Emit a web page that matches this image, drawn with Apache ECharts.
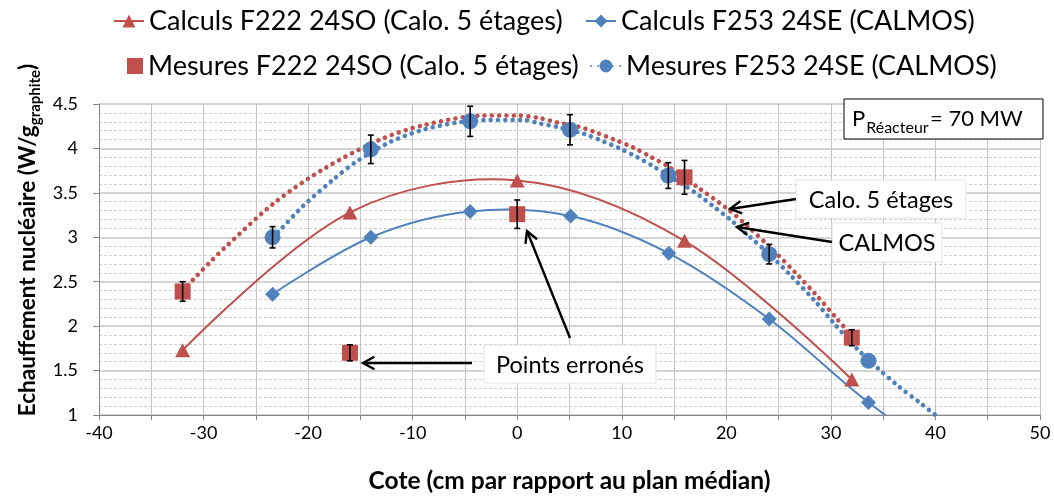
<!DOCTYPE html>
<html><head><meta charset="utf-8">
<script src="https://cdn.jsdelivr.net/npm/echarts@6/dist/echarts.min.js"></script>
<style>html,body{margin:0;padding:0;background:#fff}#c{width:1054px;height:499px}</style>
</head><body><div id="c"></div>
<script>
// ---------- data ----------
const xTicks = [-40, -30, -20, -10, 0, 10, 20, 30, 40, 50];
const yTicks = [1, 1.5, 2, 2.5, 3, 3.5, 4, 4.5];

const calcF222X = [-32, -16, 0, 16, 32];
const calcF222Y = [1.73, 3.28, 3.64, 2.96, 1.40];

const calcF253X = [-23.4, -14.0, -4.5, 5.1, 14.5, 24.1, 33.6, 43.2];
const calcF253Y = [2.36, 3.00, 3.29, 3.24, 2.82, 2.08, 1.14, 0.35];

const mesF222X = [-32, -16, 0, 16, 32];
const mesF222Y = [2.39, 1.70, 3.26, 3.675, 1.87];
const mesF222Err = [0.11, 0.09, 0.16, 0.19, 0.09];

const mesF253X = [-23.4, -14.0, -4.5, 5.05, 14.45, 24.1, 33.6];
const mesF253Y = [3.00, 3.99, 4.305, 4.21, 3.695, 2.81, 1.61];
const mesF253Err = [0.12, 0.16, 0.17, 0.17, 0.145, 0.11, 0];

const trendF222X = [-32, -30.7, -29.3, -28, -23.2, -18.5, -13.1, -9, -3.25, 0, 2.2, 3.9, 5.7, 7.4, 9.25, 11.1, 12.7, 14.6, 17.3, 20.0, 22.0, 24.6, 26.7, 28.6, 30.6, 32];
const trendF222Y = [2.40, 2.56, 2.73, 2.88, 3.39, 3.77, 4.10, 4.26, 4.37, 4.37, 4.34, 4.29, 4.25, 4.185, 4.10, 4.01, 3.91, 3.785, 3.56, 3.33, 3.13, 2.84, 2.59, 2.35, 2.08, 1.89];

const trendF253X = [-23.4, -22.7, -20.5, -17.6, -15.4, -12.2, -9.0, -5.8, -2.6, 0.6, 2.2, 3.9, 6.5, 8.2, 9.8, 11.4, 13.0, 14.45, 16.0, 17.4, 18.8, 20.3, 22.2, 24.1, 26.0, 28.5, 30.2, 32.55, 34.45, 36.5, 38.6, 40.0];
const trendF253Y = [3.00, 3.08, 3.35, 3.65, 3.85, 4.07, 4.21, 4.29, 4.32, 4.32, 4.28, 4.24, 4.16, 4.08, 4.00, 3.906, 3.80, 3.694, 3.584, 3.47, 3.345, 3.206, 3.01, 2.81, 2.59, 2.28, 2.045, 1.74, 1.53, 1.32, 1.13, 1.00];

const seriesNames = [
  'Calculs F222 24SO (Calo. 5 étages)',
  'Calculs F253 24SE (CALMOS)',
  'Mesures F222 24SO (Calo. 5 étages)',
  'Mesures F253 24SE (CALMOS)'
];
const xTitle = 'Cote (cm par rapport au plan médian)';
const yTitleMain = 'Echauffement nucléaire (W/g';
const yTitleSub = 'graphite';
const yTitleEnd = ')';
const notes = ['Calo. 5 étages', 'CALMOS', 'Points erronés'];

// ---------- style ----------
const FAM = 'Lato, "Noto Sans", sans-serif';
const RED = '#C0504D', BLUE = '#4F81BD';
const cv = document.createElement('canvas').getContext('2d');
function tw(text, size, weight) { cv.font = (weight || 'normal') + ' ' + size + 'px ' + FAM; return cv.measureText(text).width; }
function fit(text, target, weight) { return Math.round(100 * target / tw(text, 100, weight) * 2) / 2; }

const LEG = fit(seriesNames[0], 412);
const NOTE = fit(notes[2], 149);
const XT = fit(xTitle, 400, 'bold');
const PBIG = fit('= 70 MW', 93);
const PSUB = fit('Réacteur', 62);
const ytBase = tw(yTitleMain, 100, 'bold') + tw(yTitleSub, 65, 'bold') + tw(yTitleEnd, 100, 'bold');
const YT = Math.round(100 * 354 / ytBase * 2) / 2;
const YTS = Math.round(YT * 0.65);

const pairs = (xs, ys) => xs.map((x, i) => [x, ys[i]]);
const triples = (xs, ys, es) => xs.map((x, i) => [x, ys[i], es[i]]);

function errBar(params, api) {
  const x = api.value(0), y = api.value(1), e = api.value(2);
  if (!(e > 0)) return null;
  const t = api.coord([x, y + e]), b = api.coord([x, y - e]);
  const st = { stroke: '#000', lineWidth: 1.6 };
  return { type: 'group', children: [
    { type: 'line', shape: { x1: t[0], y1: t[1], x2: b[0], y2: b[1] }, style: st },
    { type: 'line', shape: { x1: t[0] - 3, y1: t[1], x2: t[0] + 3, y2: t[1] }, style: st },
    { type: 'line', shape: { x1: b[0] - 3, y1: b[1], x2: b[0] + 3, y2: b[1] }, style: st }
  ]};
}
// Excel-like smoothed curve through the series points (no overshoot clamping)
function curve(color) {
  return function (params, api) {
    if (params.dataIndexInside !== 0) return null;
    const pts = [];
    for (let i = 0; i < params.dataInsideLength; i++) pts.push(api.coord([api.value(0, i), api.value(1, i)]));
    const cs = params.coordSys;
    return { type: 'group', children: [
      { type: 'polyline', shape: { points: pts, smooth: 0.34 }, style: { stroke: color, lineWidth: 2, fill: null } }
    ], clipPath: { type: 'rect', shape: { x: cs.x, y: cs.y, width: cs.width, height: cs.height } } };
  };
}

function arrow(x1, y1, x2, y2) {
  const a = Math.atan2(y1 - y2, x1 - x2), L = 13, h = 0.5;
  const st = { stroke: '#000', lineWidth: 2.4, fill: null };
  return { type: 'group', z: 100, children: [
    { type: 'line', shape: { x1, y1, x2, y2 }, style: st, z: 100 },
    { type: 'polyline', shape: { points: [
      [x2 + L * Math.cos(a + h), y2 + L * Math.sin(a + h)], [x2, y2],
      [x2 + L * Math.cos(a - h), y2 + L * Math.sin(a - h)] ] }, style: st, z: 100 }
  ]};
}
function noteBox(x, y, w, h, text) {
  return { type: 'group', z: 100, children: [
    { type: 'rect', shape: { x, y, width: w, height: h }, style: { fill: '#fff', stroke: '#e3e3e3', lineWidth: 1 }, z: 100 },
    { type: 'text', x: x + w / 2, y: y + h / 2 + 1, z: 101, style: { text, font: NOTE + 'px ' + FAM, fill: '#000', textAlign: 'center', textVerticalAlign: 'middle' } }
  ]};
}

const wMain = tw(yTitleMain, YT, 'bold'), wSub = tw(yTitleSub, YTS, 'bold'), wEnd = tw(yTitleEnd, YT, 'bold');
const y0 = -(wMain + wSub + wEnd) / 2;
const wP = tw('P', PBIG);

const legendBase = (name, left, top, iw) => ({
  data: [name], left, top, padding: 0, itemWidth: iw || 30, itemHeight: 16,
  lineStyle: { opacity: 1 },
  textStyle: { fontSize: LEG, fontFamily: FAM, color: '#000' }
});

const chart = echarts.init(document.getElementById('c'), null, { renderer: 'canvas' });
chart.setOption({
  animation: false,
  backgroundColor: '#fff',
  grid: { left: 99, right: 14, top: 104, bottom: 77 },
  legend: [
    legendBase(seriesNames[0], 113, 21 - LEG / 2),
    legendBase(seriesNames[1], 585, 21 - LEG / 2),
    legendBase(seriesNames[2], 127, 66 - LEG / 2, 16),
    legendBase(seriesNames[3], 590, 66 - LEG / 2)
  ],
  xAxis: {
    type: 'value', min: xTicks[0], max: xTicks[xTicks.length - 1], interval: xTicks[1] - xTicks[0],
    name: xTitle, nameLocation: 'middle', nameGap: 54,
    nameTextStyle: { fontSize: XT, fontWeight: 'bold', fontFamily: FAM, color: '#000' },
    axisLine: { show: true, onZero: false, lineStyle: { color: '#868686', width: 1 } },
    axisTick: { show: true, length: 5, lineStyle: { color: '#868686' } },
    minorTick: { show: true, splitNumber: 2, length: 5, lineStyle: { color: '#868686' } },
    axisLabel: { fontSize: 18, fontFamily: FAM, color: '#000', margin: 9 },
    splitLine: { show: true, lineStyle: { color: '#c4c4c4', width: 1 } },
    minorSplitLine: { show: true, lineStyle: { color: '#c4c4c4', width: 1 } }
  },
  yAxis: {
    type: 'value', min: yTicks[0], max: yTicks[yTicks.length - 1], interval: yTicks[1] - yTicks[0],
    axisLine: { show: true, onZero: false, lineStyle: { color: '#868686', width: 1 } },
    axisTick: { show: true, length: 6, lineStyle: { color: '#868686' } },
    minorTick: { show: false, splitNumber: 5 },
    axisLabel: { fontSize: 18, fontFamily: FAM, color: '#000', margin: 21 },
    splitLine: { show: true, lineStyle: { color: '#d4d4d4', width: 2 } },
    minorSplitLine: { show: true, lineStyle: { color: '#cfcfcf', width: 1, type: [3, 2] } }
  },
  series: [
    { name: 'Tendance F222', type: 'line', data: pairs(trendF222X, trendF222Y), smooth: 0.3,
      symbol: 'none', showSymbol: false, silent: true, z: 2,
      lineStyle: { color: RED, width: 4.6, type: [0.01, 7.3], cap: 'round' } },
    { name: seriesNames[3], type: 'line', data: pairs(trendF253X, trendF253Y), smooth: 0.3,
      symbol: 'circle', symbolSize: 14, showSymbol: false, z: 2,
      itemStyle: { color: BLUE },
      lineStyle: { color: BLUE, width: 4.6, type: [0.01, 7.3], cap: 'round' } },
    { type: 'custom', data: pairs(calcF222X, calcF222Y), renderItem: curve(RED), z: 3, silent: true },
    { type: 'custom', data: pairs(calcF253X, calcF253Y), renderItem: curve(BLUE), z: 3, silent: true },
    { name: seriesNames[0], type: 'line', data: pairs(calcF222X, calcF222Y),
      symbol: 'triangle', symbolSize: [15, 14], z: 4,
      itemStyle: { color: RED }, lineStyle: { color: RED, width: 2, opacity: 0 } },
    { name: seriesNames[1], type: 'line', data: pairs(calcF253X, calcF253Y),
      symbol: 'diamond', symbolSize: 15, z: 4,
      itemStyle: { color: BLUE }, lineStyle: { color: BLUE, width: 2, opacity: 0 } },
    { name: seriesNames[2], type: 'scatter', data: pairs(mesF222X, mesF222Y),
      symbol: 'rect', symbolSize: 16, z: 4, itemStyle: { color: RED, opacity: 1 } },
    { name: seriesNames[3], type: 'scatter', data: pairs(mesF253X, mesF253Y),
      symbol: 'circle', symbolSize: 16, z: 4, itemStyle: { color: BLUE, opacity: 1 } },
    { type: 'custom', data: triples(mesF222X, mesF222Y, mesF222Err), renderItem: errBar, z: 6, silent: true },
    { type: 'custom', data: triples(mesF253X, mesF253Y, mesF253Err), renderItem: errBar, z: 6, silent: true }
  ],
  graphic: [
    { type: 'group', z: 100, children: [
      { type: 'rect', shape: { x: 844, y: 99, width: 199, height: 40 }, style: { fill: '#fff', stroke: '#000', lineWidth: 1 }, z: 100 },
      { type: 'text', x: 852, y: 119, z: 101, style: { text: 'P', font: PBIG + 'px ' + FAM, fill: '#000', textAlign: 'left', textVerticalAlign: 'middle' } },
      { type: 'text', x: 852 + wP + 1, y: 128, z: 101, style: { text: 'Réacteur', font: PSUB + 'px ' + FAM, fill: '#000', textAlign: 'left', textVerticalAlign: 'middle' } },
      { type: 'text', x: 930, y: 119, z: 101, style: { text: '= 70 MW', font: PBIG + 'px ' + FAM, fill: '#000', textAlign: 'left', textVerticalAlign: 'middle' } }
    ]},
    noteBox(796, 180, 170, 38, notes[0]),
    noteBox(832, 223, 110, 39, notes[1]),
    noteBox(484, 345, 172, 38, notes[2]),
    arrow(796, 199, 730, 209),
    arrow(832, 242, 737, 227),
    arrow(472, 363, 363, 363),
    arrow(570, 338, 527, 231),
    { type: 'group', x: 28, y: 240, rotation: Math.PI / 2, z: 100, children: [
      { type: 'text', x: y0, y: 0, style: { text: yTitleMain, font: 'bold ' + YT + 'px ' + FAM, fill: '#000', textAlign: 'left', textVerticalAlign: 'middle' } },
      { type: 'text', x: y0 + wMain, y: 7, style: { text: yTitleSub, font: 'bold ' + YTS + 'px ' + FAM, fill: '#000', textAlign: 'left', textVerticalAlign: 'middle' } },
      { type: 'text', x: y0 + wMain + wSub, y: 0, style: { text: yTitleEnd, font: 'bold ' + YT + 'px ' + FAM, fill: '#000', textAlign: 'left', textVerticalAlign: 'middle' } }
    ]}
  ]
});
</script></body></html>
